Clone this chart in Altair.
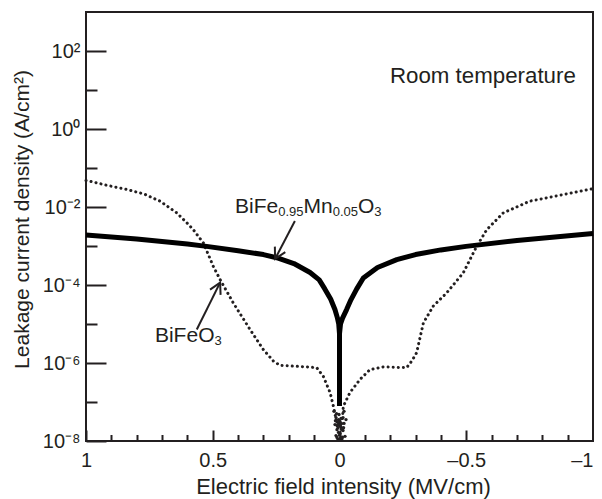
import altair as alt
import pandas as pd

INK = "#231f20"
FONT = "Liberation Sans"

# ---- data (x in MV/cm, log10 of J in A/cm^2) ----
bfo_x = [1.0, 0.984, 0.92, 0.839, 0.77, 0.708, 0.642, 0.60, 0.577, 0.537, 0.498, 0.471,
         0.419, 0.353, 0.301, 0.261, 0.235, 0.182, 0.13, 0.090, 0.064, 0.037, 0.024,
         0.015, 0.008, 0.002, -0.006, -0.012, -0.015,
         -0.041, -0.081, -0.120, -0.173, -0.22, -0.265, -0.285, -0.304, -0.331, -0.370,
         -0.423, -0.488, -0.541, -0.581, -0.646, -0.751, -0.883, -1.0]
bfo_logj = [-1.32, -1.34, -1.44, -1.55, -1.67, -1.85, -2.15, -2.42, -2.58, -2.92, -3.52, -3.86,
            -4.46, -5.14, -5.65, -5.95, -6.06, -6.08, -6.10, -6.12, -6.34, -6.76, -7.11,
            -7.4, -7.7, -7.5, -7.7, -7.4, -7.11,
            -6.76, -6.42, -6.17, -6.10, -6.11, -6.12, -5.95, -5.74, -4.97, -4.54,
            -4.20, -3.69, -3.01, -2.58, -2.15, -1.85, -1.68, -1.53]

# dense scatter of BiFeO3 points around zero field
bfo_cluster_x = [0.0217, 0.0138, 0.0178, 0.0099, 0.0138, 0.0059, 0.002, -0.002, -0.006, -0.002,
                 -0.0099, -0.0138, -0.0178, -0.0138, -0.0217, 0.0059, -0.006, 0.0099, -0.0178,
                 -0.0256, 0.0118, 0.004, -0.004, -0.0118, 0.008, -0.008, 0.0, 0.016, -0.016,
                 0.004, -0.004, 0.0]
bfo_cluster_logj = [-7.24, -7.40, -7.58, -7.71, -7.86, -7.96, -7.32, -7.50, -7.65, -7.81,
                    -7.94, -7.40, -7.55, -7.73, -7.88, -7.60, -7.42, -7.91, -7.24, -7.45,
                    -7.30, -7.45, -7.62, -7.90, -7.52, -7.70, -7.85, -7.48, -7.66,
                    -7.78, -7.92, -7.98]

bfmo_left_x = [1.0, 0.8, 0.6, 0.524, 0.4, 0.3, 0.248, 0.18, 0.116, 0.08, 0.058, 0.035,
               0.018, 0.008, 0.003, 0.0, 0.0]
bfmo_left_logj = [-2.72, -2.82, -2.95, -3.01, -3.12, -3.22, -3.30, -3.45, -3.68, -3.87, -4.10, -4.36,
                  -4.63, -4.85, -5.0, -5.25, -7.1]
bfmo_right_x = [0.0, 0.0, -0.004, -0.012, -0.028, -0.045, -0.068, -0.094, -0.15, -0.226,
                -0.3, -0.4, -0.499, -0.7, -1.0]
bfmo_right_logj = [-7.1, -5.25, -5.0, -4.85, -4.63, -4.38, -4.10, -3.82, -3.55, -3.35,
                   -3.22, -3.1, -3.01, -2.86, -2.68]

x_major_values = [1, 0.5, 0, -0.5, -1]
x_major_labels = ["1", "0.5", "0", "\u20130.5", "\u20131"]
x_minor_values = [0.9, 0.8, 0.7, 0.6, 0.4, 0.3, 0.2, 0.1, -0.1, -0.2, -0.3, -0.4,
                  -0.6, -0.7, -0.8, -0.9]
y_major_exps = [-8, -6, -4, -2, 0, 2]
y_major_labels = ["10\u207b\u2078", "10\u207b\u2076", "10\u207b\u2074", "10\u207b\u00b2",
                  "10\u2070", "10\u00b2"]
y_minor_exps = [-7, -5, -3, -1, 1]

# annotations (anchors in data coordinates)
label_bfmo = {"x": 0.412, "logj": -2.15}
label_bfo = {"x": 0.728, "logj": -5.47}
label_room = {"x": -0.199, "logj": 1.167, "text": "Room temperature"}
arrow_bfmo = {"x": 0.176, "logj": -2.36, "x2": 0.254, "logj2": -3.33, "angle": 207.6}
arrow_bfo = {"x": 0.563, "logj": -5.14, "x2": 0.471, "logj2": -3.94, "angle": 26.5}


def frame(xs, logs):
    return pd.DataFrame({"i": list(range(len(xs))), "x": xs, "y": [10 ** v for v in logs]})


bfo = frame(bfo_x, bfo_logj)
bfo_cluster = frame(bfo_cluster_x, bfo_cluster_logj)
bfmo = pd.concat([
    frame(bfmo_left_x, bfmo_left_logj).assign(s="L"),
    frame(bfmo_right_x, bfmo_right_logj).assign(s="R"),
])

xscale = alt.Scale(domain=[-1, 1], reverse=True, nice=False, zero=False)
yscale = alt.Scale(type="log", domain=[1e-8, 1e3], nice=False)

x_expr = " : ".join(f"datum.value == {v} ? '{l}'" for v, l in zip(x_major_values, x_major_labels)) + " : ''"
y_expr = "[" + ",".join(f"'{l}'" for l in y_major_labels) + "][round((log(datum.value)/LN10 + 8)/2)]"

x_major_axis = alt.Axis(values=x_major_values, offset=-11, tickSize=11, domain=False, grid=False,
                        labelPadding=9, labelFontSize=20, labelExpr=x_expr, labelFlush=False,
                        labelOverlap=False,
                        labelAlign={"condition": {"test": "datum.value <= -1", "value": "right"},
                                    "value": "center"},
                        title="Electric field intensity (MV/cm)",
                        titleFontSize=22, titleX=257, titleY=56, titleAlign="center",
                        titleBaseline="middle", orient="bottom")
y_major_axis = alt.Axis(values=[10 ** e for e in y_major_exps], offset=-20, tickSize=20,
                        domain=False, grid=False, labelPadding=6, labelFontSize=20,
                        labelExpr=y_expr, labelFlush=False, labelOverlap=False,
                        labelBaseline="middle",
                        title="Leakage current density (A/cm\u00b2)", titleFontSize=21,
                        titleX=-84, titleY=207, titleAngle=-90, titleAlign="center",
                        titleBaseline="middle", orient="left")
x_minor_axis = alt.Axis(values=x_minor_values, offset=-6.5, tickSize=6.5, domain=False,
                        grid=False, labels=False, title=None, orient="bottom")
y_minor_axis = alt.Axis(values=[10 ** e for e in y_minor_exps], offset=-11, tickSize=11,
                        domain=False, grid=False, labels=False, title=None, orient="left")


def X(field="x"):
    return alt.X(f"{field}:Q", scale=xscale, axis=None)


def Y(field="y"):
    return alt.Y(f"{field}:Q", scale=yscale, axis=None)


dotted = alt.Chart(bfo).mark_line(
    color=INK, strokeWidth=3, strokeDash=[0.1, 5.0], strokeCap="round"
).encode(x=X(), y=Y(), order="i:Q")

cluster = alt.Chart(bfo_cluster).mark_circle(color=INK, size=11, opacity=1).encode(x=X(), y=Y())

solid = alt.Chart(bfmo).mark_line(color="#000000", strokeWidth=5, strokeCap="butt",
                                  strokeJoin="round").encode(
    x=X(), y=Y(), detail="s:N", order="i:Q",
)

arrows_df = pd.DataFrame([
    {"x": a["x"], "y": 10 ** a["logj"], "x2": a["x2"], "y2": 10 ** a["logj2"], "angle": a["angle"]}
    for a in (arrow_bfmo, arrow_bfo)
])
shafts = alt.Chart(arrows_df).mark_rule(color=INK, strokeWidth=2).encode(
    x=X(), y=Y(), x2="x2:Q", y2="y2:Q",
)
heads = alt.Chart(arrows_df).mark_point(
    shape="M -0.55 1 L 0 0 L 0.55 1", filled=False, color=INK, strokeWidth=2, size=460,
    opacity=1,
).encode(
    x=X("x2"), y=Y("y2"),
    angle=alt.Angle("angle:Q", scale=None),
)


def rich_text(anchor, segments):
    layers = []
    df = pd.DataFrame({"x": [anchor["x"]], "y": [10 ** anchor["logj"]]})
    for txt, dx, size, dy in segments:
        layers.append(alt.Chart(df).mark_text(
            text=txt, dx=dx, dy=dy, fontSize=size, font=FONT, color=INK,
            align="left", baseline="alphabetic"
        ).encode(x=X(), y=Y()))
    return layers


texts = []
texts += rich_text(label_bfmo, [("BiFe", 0, 21, 0), ("0.95", 43.2, 13, 3), ("Mn", 68.5, 21, 0),
                                ("0.05", 97.7, 13, 3), ("O", 123.0, 21, 0), ("3", 139.3, 13, 3)])
texts += rich_text(label_bfo, [("BiFe", 0, 21, 0), ("O", 43.2, 21, 0), ("3", 59.5, 13, 3)])
texts += rich_text(label_room, [(label_room["text"], 0, 22.3, 0)])

main = alt.layer(dotted, cluster, solid, shafts, heads, *texts)

major = alt.Chart(bfmo).mark_line(strokeOpacity=0, strokeWidth=1).encode(
    x=alt.X("x:Q", scale=xscale, axis=x_major_axis),
    y=alt.Y("y:Q", scale=yscale, axis=y_major_axis),
    detail="s:N",
)
minor = alt.Chart(bfmo).mark_line(strokeOpacity=0, strokeWidth=1).encode(
    x=alt.X("x:Q", scale=xscale, axis=x_minor_axis),
    y=alt.Y("y:Q", scale=yscale, axis=y_minor_axis),
    detail="s:N",
)

chart = alt.layer(main, major, minor).resolve_scale(x="independent", y="independent").properties(
    width=507, height=429,
    autosize=alt.AutoSizeParams(type="none"),
    padding={"left": 78, "top": 4, "right": 1, "bottom": 58},
    background="white",
).configure_view(
    stroke=INK, strokeWidth=2
).configure_axis(
    tickColor=INK, tickWidth=2, labelColor=INK, titleColor=INK,
    labelFont=FONT, titleFont=FONT, titleFontWeight="normal",
)

chart.save("out.html", embed_options={"renderer": "svg", "actions": False})
